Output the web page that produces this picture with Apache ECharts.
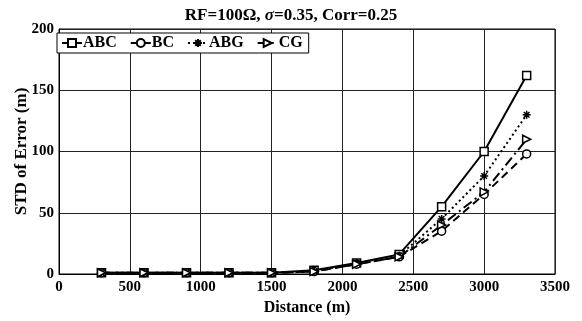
<!DOCTYPE html>
<html>
<head>
<meta charset="utf-8">
<script src="https://cdn.jsdelivr.net/npm/echarts@6/dist/echarts.min.js"></script>
<style>
html,body{margin:0;padding:0;background:#fff;}
#chart{width:582px;height:321px;}
</style>
</head>
<body>
<div id="chart"></div>
<script>
var distance = [300, 600, 900, 1200, 1500, 1800, 2100, 2400, 2700, 3000, 3300];
var abc = [1, 1, 1, 1, 1, 3, 9, 16, 55, 100, 162];
var bc  = [1, 1, 1, 1, 1, 2, 8, 14, 35, 65, 98];
var abg = [1, 1, 1, 1, 1, 2, 9, 15, 45, 80, 130];
var cg  = [1, 1, 1, 1, 1, 2, 8, 14, 40, 67, 110];
var seriesNames = ['ABC', 'BC', 'ABG', 'CG'];

var font = 'Liberation Serif';
var asterisk = 'path://M5,0L5,10M0,5L10,5M1.5,1.5L8.5,8.5M1.5,8.5L8.5,1.5';

function pairs(ys){
    var out = [];
    for(var i = 0 ; i < distance.length ; i ++){
        out.push([distance[i], ys[i]]);
    }
    return out;
}

function makeSeries(name, ys, symbol, dash, extra){
    var s = {
        name: name,
        type: 'line',
        data: pairs(ys),
        symbol: symbol,
        symbolSize: 8,
        showSymbol: true,
        lineStyle: {color: '#000', width: 2, type: dash},
        itemStyle: {color: '#fff', borderColor: '#000', borderWidth: 1.5},
        emphasis: {disabled: true},
        animation: false
    };
    if(extra){
        for(var k in extra) s[k] = extra[k];
    }
    return s;
}

function operateChart(){
    var chart = echarts.init(document.getElementById('chart'));
    var option = {
        backgroundColor: '#fff',
        title: {
            text: '{n|RF=100Ω, }{s|σ}{n|=0.35, Corr=0.25}',
            left: 'center',
            top: 2,
            textStyle: {
                rich: {
                    n: {fontFamily: font, fontWeight: 'bold', fontSize: 17, color: '#000'},
                    s: {fontFamily: font, fontWeight: 'bold', fontStyle: 'italic', fontSize: 17, color: '#000'}
                }
            }
        },
        legend: {
            data: seriesNames,
            left: 57,
            top: 33,
            orient: 'horizontal',
            backgroundColor: '#fff',
            borderColor: '#000',
            borderWidth: 1,
            borderRadius: 0,
            padding: [2, 6, 2, 4],
            itemWidth: 20,
            itemHeight: 10,
            itemGap: 13,
            selectedMode: false,
            textStyle: {fontFamily: font, fontWeight: 'bold', fontSize: 16, color: '#000', padding: [0, 0, 0, -4]}
        },
        grid: {left: 59, right: 27, top: 29, bottom: 47, outerBoundsMode: 'none', show: true, borderColor: '#000', borderWidth: 1},
        xAxis: {
            type: 'value',
            min: 0,
            max: 3500,
            interval: 500,
            name: 'Distance (m)',
            nameLocation: 'middle',
            nameGap: 26,
            nameMoveOverlap: false,
            nameTextStyle: {fontFamily: font, fontWeight: 'bold', fontSize: 16, color: '#000'},
            axisLine: {show: true, onZero: false, lineStyle: {color: '#000'}},
            axisTick: {show: false},
            axisLabel: {fontFamily: font, fontWeight: 'bold', fontSize: 15, color: '#000', margin: 6,
                formatter: function(v){ return String(v); }},
            splitLine: {show: true, lineStyle: {color: '#222', width: 1}}
        },
        yAxis: {
            type: 'value',
            min: 0,
            max: 200,
            interval: 50,
            name: 'STD of Error (m)',
            nameLocation: 'middle',
            nameGap: 29,
            nameMoveOverlap: false,
            nameTextStyle: {fontFamily: font, fontWeight: 'bold', fontSize: 17, color: '#000'},
            axisLine: {show: true, lineStyle: {color: '#000'}},
            axisTick: {show: false},
            axisLabel: {fontFamily: font, fontWeight: 'bold', fontSize: 15, color: '#000', margin: 5},
            splitLine: {show: true, lineStyle: {color: '#222', width: 1}}
        },
        series: [
            makeSeries('ABC', abc, 'rect', 'solid'),
            makeSeries('BC', bc, 'circle', [8, 5]),
            makeSeries('ABG', abg, asterisk, [2, 3], {itemStyle: {color: 'none', borderColor: '#000', borderWidth: 1.5}}),
            makeSeries('CG', cg, 'triangle', [10, 4, 2, 4], {symbolRotate: -90})
        ]
    };
    chart.setOption(option);
}

operateChart();
</script>
</body>
</html>
